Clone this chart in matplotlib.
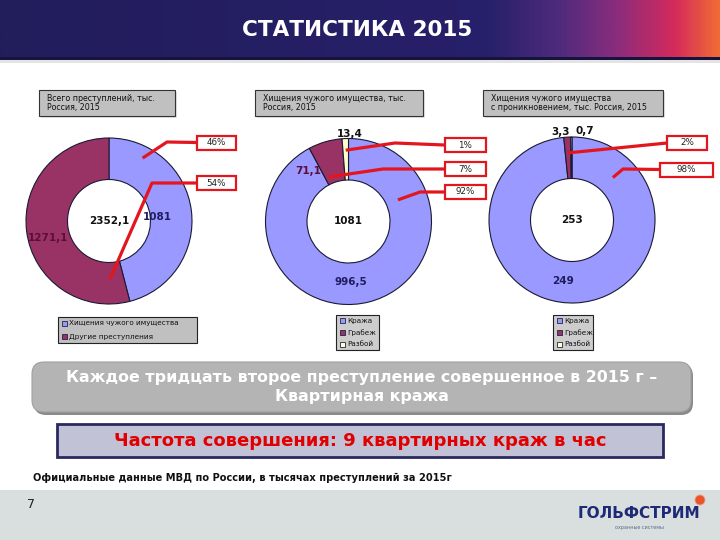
import numpy as np
import matplotlib.pyplot as plt
from matplotlib.patches import Rectangle, FancyBboxPatch, Circle
from matplotlib.colors import LinearSegmentedColormap

# --- data ---
total_labels = ['Хищения чужого имущества', 'Другие преступления']
total_values = [1081, 1271.1]
total_value_text = ['1081', '1271,1']
total_sum_text = '2352,1'
total_pct = ['46%', '54%']

theft_labels = ['Кража', 'Грабеж', 'Разбой']
theft_values = [996.5, 71.1, 13.4]
theft_value_text = ['996,5', '71,1', '13,4']
theft_sum_text = '1081'
theft_pct = ['92%', '7%', '1%']

burg_labels = ['Кража', 'Грабеж', 'Разбой']
burg_values = [249, 3.3, 0.7]
burg_value_text = ['249', '3,3', '0,7']
burg_sum_text = '253'
burg_pct = ['98%', '2%']

BLUE, MAROON, CREAM = '#9999FF', '#993366', '#FFFFCC'
RED = '#E3161E'
NAVY = '#1F1D5E'

W, H = 720, 540
fig = plt.figure(figsize=(7.2, 5.4), dpi=100)
fig.patch.set_facecolor('white')
bg = fig.add_axes([0, 0, 1, 1])
bg.set_xlim(0, W); bg.set_ylim(H, 0); bg.axis('off')

# header band with gradient on the right
stops = [(0.0, '#221D5B'), (0.68, '#27206A'), (0.78, '#4F2B7C'),
         (0.86, '#8B2D7C'), (0.94, '#D42A5C'), (1.0, '#F06A35')]
cmap = LinearSegmentedColormap.from_list('hdr', stops)
bg.imshow(np.linspace(0, 1, 400)[None, :], cmap=cmap, aspect='auto',
          extent=[0, W, 59, 0], zorder=0)
bg.add_patch(Rectangle((0, 57), W, 3, color='#16133F', lw=0, zorder=1))
bg.add_patch(Rectangle((0, 60), W, 3, color='#E4E4E4', lw=0, zorder=1))
bg.text(357, 30, 'СТАТИСТИКА 2015', color='white', fontsize=15.5, fontweight='bold',
        ha='center', va='center', family=['Liberation Sans Narrow', 'DejaVu Sans'])

# small chart title boxes
titles = [(39, 175, 'Всего преступлений, тыс.\nРоссия, 2015'),
          (255, 423, 'Хищения чужого имущества, тыс.\nРоссия, 2015'),
          (483, 663, 'Хищения чужого имущества\nс проникновением, тыс. Россия, 2015')]
for x0, x1, t in titles:
    bg.add_patch(Rectangle((x0 + 2, 92), x1 - x0, 26, color='#E2E2E2', lw=0, zorder=1))
    bg.add_patch(Rectangle((x0, 90), x1 - x0, 26, facecolor='#C0C0C0',
                           edgecolor='#333333', lw=0.8, zorder=2))
    bg.text(x0 + 8, 103, t, fontsize=5.7, color='#111111', va='center', ha='left',
            linespacing=1.1, zorder=3)


def donut(cx, cy, r, values, cols):
    ax = fig.add_axes([(cx - r) / W, 1 - (cy + r) / H, 2 * r / W, 2 * r / H])
    wedges, _ = ax.pie(values, colors=cols, startangle=90, counterclock=False,
                       wedgeprops=dict(width=0.5, edgecolor='#1A1A33', linewidth=0.8))
    ax.set_xlim(-1, 1); ax.set_ylim(-1, 1)
    ax.set_aspect('equal')
    return ax, wedges


charts = [
    dict(c=(109, 221), values=total_values, cols=[BLUE, MAROON],
         vtext=total_value_text, sum=total_sum_text,
         vpos=[(0.58, 0.05), (-0.74, -0.2)], vcol=[NAVY, '#5C0F35']),
    dict(c=(348.5, 221.5), values=theft_values, cols=[BLUE, MAROON, CREAM],
         vtext=theft_value_text, sum=theft_sum_text,
         vpos=[(0.03, -0.73), (-0.48, 0.61), (0.02, 1.05)],
         vcol=[NAVY, '#5C0F35', '#111111']),
    dict(c=(572, 220), values=burg_values, cols=[BLUE, MAROON, CREAM],
         vtext=burg_value_text, sum=burg_sum_text,
         vpos=[(-0.11, -0.74), (-0.14, 1.06), (0.15, 1.07)],
         vcol=[NAVY, '#111111', '#111111']),
]
R = 83
all_wedges = []
for ch in charts:
    ax, wedges = donut(ch['c'][0], ch['c'][1], R, ch['values'], ch['cols'])
    all_wedges.append(wedges)
    ax.text(0, 0, ch['sum'], ha='center', va='center', fontsize=7.5,
            fontweight='bold', color='#111111')
    for txt, (dx, dy), col in zip(ch['vtext'], ch['vpos'], ch['vcol']):
        ax.text(dx, dy, txt, ha='center', va='center', fontsize=7.5,
                fontweight='bold', color=col, clip_on=False)

# overlay for callouts
top = fig.add_axes([0, 0, 1, 1])
top.set_xlim(0, W); top.set_ylim(H, 0); top.axis('off')
top.patch.set_alpha(0)

# (chart, wedge, label, t along wedge, radius fraction, knee, box center, box width)
callouts = [
    (0, 0, total_pct[0], 0.17, 0.86, (167, 142), (216.5, 142.5), 39),
    (0, 1, total_pct[1], 0.07, 0.70, (152, 183), (216.5, 183), 39),
    (1, 2, theft_pct[2], 0.5, 0.86, (395, 143), (465, 145), 41),
    (1, 1, theft_pct[1], 0.14, 0.59, (383, 169), (465, 169), 41),
    (1, 0, theft_pct[0], 0.20, 0.65, (420, 192), (465, 192), 41),
    (2, 1, burg_pct[1], 0.5, 0.81, (667, 143), (687, 142.5), 40),
    (2, 0, burg_pct[0], 0.124, 0.71, (623, 169), (686.5, 169.5), 53),
]
for ci, wi, lab, t, rr, knee, bc, bw in callouts:
    w = all_wedges[ci][wi]
    ang = np.deg2rad(w.theta2 - t * (w.theta2 - w.theta1))
    cx, cy = charts[ci]['c']
    ax_pt = (cx + rr * R * np.cos(ang), cy - rr * R * np.sin(ang))
    bx0 = bc[0] - bw / 2
    top.plot([bx0, knee[0], ax_pt[0]], [bc[1], knee[1], ax_pt[1]],
             color=RED, lw=2.3, solid_capstyle='butt', zorder=3)
    top.add_patch(Rectangle((bx0, bc[1] - 7), bw, 14, facecolor='white',
                            edgecolor=RED, lw=1.6, zorder=4))
    top.text(bc[0], bc[1], lab, ha='center', va='center', fontsize=6.3,
             color='#222222', zorder=5)

# legends
legends = [
    ((58, 317, 139, 26), total_labels, [BLUE, MAROON], '#C0C0C0'),
    ((336, 315, 43, 35), theft_labels, [BLUE, MAROON, CREAM], '#CDCDCD'),
    ((553, 315, 40, 35), burg_labels, [BLUE, MAROON, CREAM], '#CDCDCD'),
]
for (x0, y0, w, h), labs, cols, fc in legends:
    bg.add_patch(Rectangle((x0, y0), w, h, facecolor=fc, edgecolor='#222222',
                           lw=0.8, zorder=2))
    n = len(labs)
    step = h / n
    for i, (lab, col) in enumerate(zip(labs, cols)):
        yy = y0 + step * (i + 0.5)
        bg.add_patch(Rectangle((x0 + 4, yy - 2.5), 5, 5, facecolor=col,
                               edgecolor='#222244', lw=0.6, zorder=3))
        bg.text(x0 + 11, yy, lab, fontsize=5.2, va='center', ha='left',
                color='#111111', zorder=3)

# gray rounded panel
bg.add_patch(FancyBboxPatch((34, 364), 659, 51, boxstyle='round,pad=0,rounding_size=12',
                            facecolor='#8A8A8A', edgecolor='none', zorder=2))
bg.add_patch(FancyBboxPatch((32, 362), 659, 50, boxstyle='round,pad=0,rounding_size=12',
                            facecolor='#B4B4B4', edgecolor='#A0A0A0', lw=0.8, zorder=3))
bg.text(362, 387, 'Каждое тридцать второе преступление совершенное в 2015 г –\nКвартирная кража',
        ha='center', va='center', fontsize=11.4, fontweight='bold', color='white',
        linespacing=1.3, zorder=4)

# frequency box
bg.add_patch(Rectangle((57, 424), 606, 33, facecolor='#C2C2D6', edgecolor='#2B2860',
                       lw=2, zorder=3))
bg.text(360, 441, 'Частота совершения: 9 квартирных краж в час', ha='center',
        va='center', fontsize=13, fontweight='bold', color='#E00000', zorder=4)

bg.text(33, 478, 'Официальные данные МВД по России, в тысячах преступлений за 2015г',
        ha='left', va='center', fontsize=7.1, fontweight='bold', color='#111111')

# footer
bg.add_patch(Rectangle((0, 490), W, 50, facecolor='#D9DEDE', lw=0, zorder=1))
bg.text(27, 505, '7', fontsize=9, color='#222222', va='center', ha='left', zorder=2)
bg.text(639, 513, 'ГОЛЬФСТРИМ', fontsize=11, fontweight='bold', color='#1E2A78',
        ha='center', va='center', zorder=2)
bg.text(639, 528, 'охранные системы', fontsize=3.5, color='#5A6A8A',
        ha='center', va='center', zorder=2)
bg.add_patch(Circle((700, 500), 5, facecolor='#E8552B', edgecolor='#F0A080', lw=0.6, zorder=2))

fig.savefig('out.png', dpi=100)
